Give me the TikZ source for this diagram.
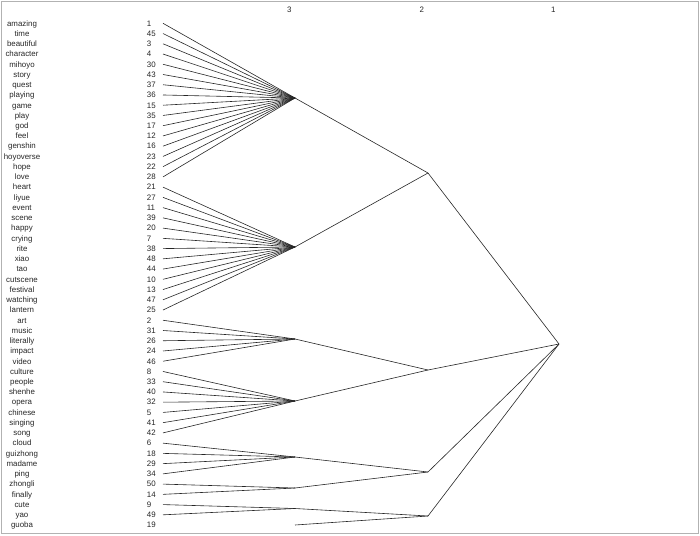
\documentclass[tikz,border=0pt]{standalone}
\usepackage{fontspec}
\setmainfont{Liberation Sans}
\begin{document}
\begin{tikzpicture}[x=1pt,y=-1pt,
  lbl/.style={inner sep=0pt,anchor=base,font=\fontsize{7.9}{8}\selectfont,text=black!85},
  num/.style={inner sep=0pt,anchor=base west,font=\fontsize{7.9}{8}\selectfont,text=black!85},
  edge/.style={draw=black!85,line width=0.6pt}]
\useasboundingbox (0,0) rectangle (700,535);
\draw[black!30,line width=1pt] (1.5,1.5) rectangle (698,533.5);
% level labels
\node[lbl] (lv3) at (289.3,12.4) {3};
\node[lbl] (lv2) at (421.7,12.4) {2};
\node[lbl] (lv1) at (553.3,12.4) {1};
% cluster nodes
\coordinate (c1) at (295,98);
\coordinate (c2) at (295,247);
\coordinate (c3) at (295,339);
\coordinate (c4) at (295,401);
\coordinate (c5) at (295,457);
\coordinate (c6) at (295,488);
\coordinate (c7) at (295,508.5);
\coordinate (cg) at (295,525);
\coordinate (A) at (428,173);
\coordinate (B) at (428,370);
\coordinate (C) at (428,472);
\coordinate (D) at (428,516);
\coordinate (R) at (559,344);
% leaves
\foreach \w/\n/\c [count=\i from 0] in {amazing/1/c1,time/45/c1,beautiful/3/c1,character/4/c1,mihoyo/30/c1,story/43/c1,quest/37/c1,playing/36/c1,game/15/c1,play/35/c1,god/17/c1,feel/12/c1,genshin/16/c1,hoyoverse/23/c1,hope/22/c1,love/28/c1,heart/21/c2,liyue/27/c2,event/11/c2,scene/39/c2,happy/20/c2,crying/7/c2,rite/38/c2,xiao/48/c2,tao/44/c2,cutscene/10/c2,festival/13/c2,watching/47/c2,lantern/25/c2,art/2/c3,music/31/c3,literally/26/c3,impact/24/c3,video/46/c3,culture/8/c4,people/33/c4,shenhe/40/c4,opera/32/c4,chinese/5/c4,singing/41/c4,song/42/c4,cloud/6/c5,guizhong/18/c5,madame/29/c5,ping/34/c5,zhongli/50/c6,finally/14/c6,cute/9/c7,yao/49/c7}{
  \pgfmathsetmacro{\yy}{23.3+10.24*\i}
  \node[lbl] (w\i) at (22,\yy+2.8) {\w};
  \node[num] (n\i) at (146.7,\yy+2.8) {\n};
  \coordinate (s\i) at (163,\yy);
  \draw[edge] (s\i) -- (\c);
}
\node[lbl] (w49) at (22,525.1+2.8) {guoba};
\node[num] (n49) at (146.7,525.1+2.8) {19};
% upper levels
\draw[edge] (c1) -- (A);
\draw[edge] (c2) -- (A);
\draw[edge] (c3) -- (B);
\draw[edge] (c4) -- (B);
\draw[edge] (c5) -- (C);
\draw[edge] (c6) -- (C);
\draw[edge] (c7) -- (D);
\draw[edge] (cg) -- (D);
\draw[edge] (A) -- (R);
\draw[edge] (B) -- (R);
\draw[edge] (C) -- (R);
\draw[edge] (D) -- (R);
\end{tikzpicture}
\end{document}
